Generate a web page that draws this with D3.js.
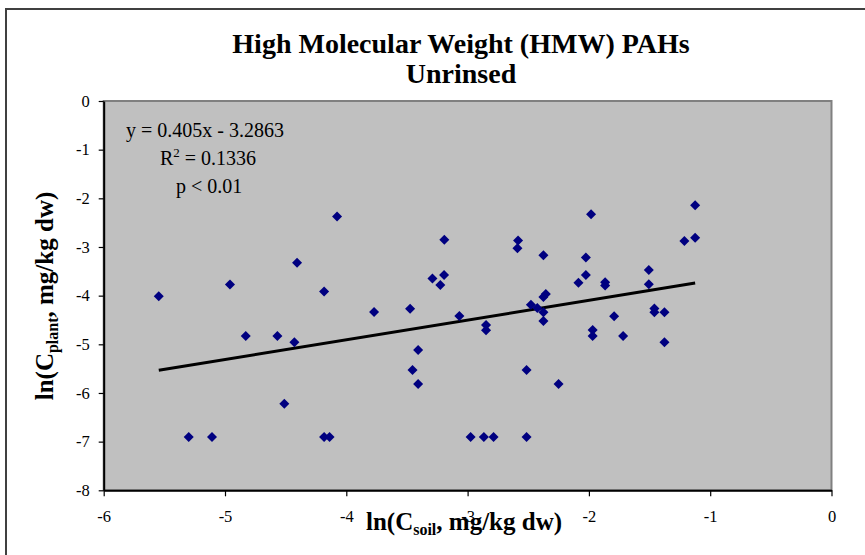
<!DOCTYPE html>
<html>
<head>
<meta charset="utf-8">
<script src="https://cdn.jsdelivr.net/npm/d3@7"></script>
<style>
  html, body { margin: 0; padding: 0; background: #fff; }
  svg { display: block; font-family: "Liberation Serif", "Times New Roman", serif; }
</style>
</head>
<body>
<svg id="chart" width="865" height="555"></svg>
<script>
// ln(C_soil) vs ln(C_plant) for HMW PAHs, unrinsed samples
const lnSoil = [
  -5.546, -5.299, -5.107, -4.959, -4.829, -4.568, -4.511, -4.428, -4.406, -4.183,
  -4.183, -4.138, -4.076, -3.771, -3.474, -3.454, -3.408, -3.408, -3.290, -3.225,
  -3.194, -3.192, -3.068, -2.975, -2.866, -2.848, -2.848, -2.786, -2.584, -2.589,
  -2.514, -2.514, -2.478, -2.425, -2.375, -2.355, -2.375, -2.375, -2.375, -2.250,
  -2.086, -2.025, -2.025, -1.982, -1.969, -1.969, -1.866, -1.866, -1.792, -1.718,
  -1.506, -1.506, -1.460, -1.460, -1.377, -1.377, -1.213, -1.124, -1.124
];
const lnPlant = [
  -4.014, -6.905, -6.905, -3.771, -4.829, -4.829, -6.221, -4.959, -3.325, -3.915,
  -6.905, -6.905, -2.374, -4.336, -4.268, -5.528, -5.117, -5.816, -3.648, -3.781,
  -3.576, -2.850, -4.418, -6.905, -6.905, -4.603, -4.710, -6.905, -2.867, -3.025,
  -5.528, -6.905, -4.188, -4.254, -3.171, -3.966, -4.028, -4.342, -4.521, -5.816,
  -3.734, -3.216, -3.576, -2.328, -4.706, -4.829, -3.726, -3.792, -4.425, -4.829,
  -3.473, -3.767, -4.264, -4.342, -4.342, -4.959, -2.877, -2.809, -2.143
];

// Linear fit reported on the chart
const fitSlope = 0.405;
const fitIntercept = -3.2863;
const fitLabels = ["y = 0.405x - 3.2863", "R2 = 0.1336", "p < 0.01"];

const xTicks = [-6, -5, -4, -3, -2, -1, 0];
const yTicks = [0, -1, -2, -3, -4, -5, -6, -7, -8];
const titleLines = ["High Molecular Weight (HMW) PAHs", "Unrinsed"];

const svg = d3.select("#chart");

// Outer chart frame
svg.append("rect")
  .attr("x", 6).attr("y", 9)
  .attr("width", 900).attr("height", 600)
  .attr("fill", "#fff")
  .attr("stroke", "#404040").attr("stroke-width", 2);

const plot = { left: 103.7, right: 831.5, top: 101, bottom: 490.3 };

const x = d3.scaleLinear().domain([-6, 0]).range([plot.left, plot.right]);
const y = d3.scaleLinear().domain([-8, 0]).range([plot.bottom, plot.top]);

// Plot area
svg.append("rect")
  .attr("x", plot.left).attr("y", plot.top)
  .attr("width", plot.right - plot.left).attr("height", plot.bottom - plot.top)
  .attr("fill", "#c0c0c0")
  .attr("stroke", "#808080").attr("stroke-width", 2);

// Axes
const xAxis = d3.axisBottom(x).tickValues(xTicks).tickSize(6).tickSizeOuter(0);
const gx = svg.append("g").attr("transform", `translate(0,${plot.bottom})`).call(xAxis);
gx.select(".domain").attr("stroke", "#000").attr("stroke-width", 2);
gx.selectAll(".tick line").attr("stroke", "#000").attr("stroke-width", 1.2);
gx.selectAll(".tick text")
  .attr("y", 20)
  .attr("font-family", "Liberation Serif")
  .attr("font-size", 16.5)
  .attr("fill", "#000")
  .text(d => String(d));

const yAxis = d3.axisLeft(y).tickValues(yTicks).tickSize(5).tickSizeOuter(0);
const gy = svg.append("g").attr("transform", `translate(${plot.left},0)`).call(yAxis);
gy.select(".domain").attr("stroke", "#000").attr("stroke-width", 2);
gy.selectAll(".tick line").attr("stroke", "#000").attr("stroke-width", 1.2);
gy.selectAll(".tick text")
  .attr("x", -14)
  .attr("font-family", "Liberation Serif")
  .attr("font-size", 16.5)
  .attr("fill", "#000")
  .text(d => String(d));

// Regression line over the range of the data
const xExt = d3.extent(lnSoil);
svg.append("line")
  .attr("x1", x(xExt[0])).attr("y1", y(fitSlope * xExt[0] + fitIntercept))
  .attr("x2", x(xExt[1])).attr("y2", y(fitSlope * xExt[1] + fitIntercept))
  .attr("stroke", "#000").attr("stroke-width", 3);

// Data markers (diamonds)
const diamond = d3.symbol().type(d3.symbolDiamond2).size(64);
svg.append("g").selectAll("path")
  .data(d3.range(lnSoil.length))
  .join("path")
  .attr("d", diamond)
  .attr("transform", i => `translate(${x(lnSoil[i])},${y(lnPlant[i])})`)
  .attr("fill", "#000080");

// Title
const title = svg.append("text")
  .attr("text-anchor", "middle")
  .attr("font-weight", "bold")
  .attr("font-size", 28)
  .attr("fill", "#000");
title.append("tspan").attr("x", 461).attr("y", 53).text(titleLines[0]);
title.append("tspan").attr("x", 461).attr("y", 83).text(titleLines[1]);

// Fit annotation
const ann = svg.append("g").attr("font-size", 20).attr("fill", "#000");
ann.append("text").attr("x", 126).attr("y", 137).text(fitLabels[0]);
const r2 = ann.append("text").attr("x", 160).attr("y", 165);
r2.append("tspan").text("R");
r2.append("tspan").attr("dy", -8).attr("font-size", 13).text("2");
r2.append("tspan").attr("dy", 8).text(" = 0.1336");
ann.append("text").attr("x", 176).attr("y", 193).text(fitLabels[2]);

// Axis titles
const xt = svg.append("text")
  .attr("x", 464).attr("y", 530)
  .attr("text-anchor", "middle")
  .attr("font-weight", "bold").attr("font-size", 25).attr("fill", "#000");
xt.append("tspan").text("ln(C");
xt.append("tspan").attr("font-size", 16).attr("dy", 5).text("soil");
xt.append("tspan").attr("dy", -5).text(", mg/kg dw)");

const yt = svg.append("text")
  .attr("transform", "translate(53,296) rotate(-90)")
  .attr("text-anchor", "middle")
  .attr("font-weight", "bold").attr("font-size", 25).attr("fill", "#000");
yt.append("tspan").text("ln(C");
yt.append("tspan").attr("font-size", 16).attr("dy", 5).text("plant");
yt.append("tspan").attr("dy", -5).text(", mg/kg dw)");
</script>
</body>
</html>
